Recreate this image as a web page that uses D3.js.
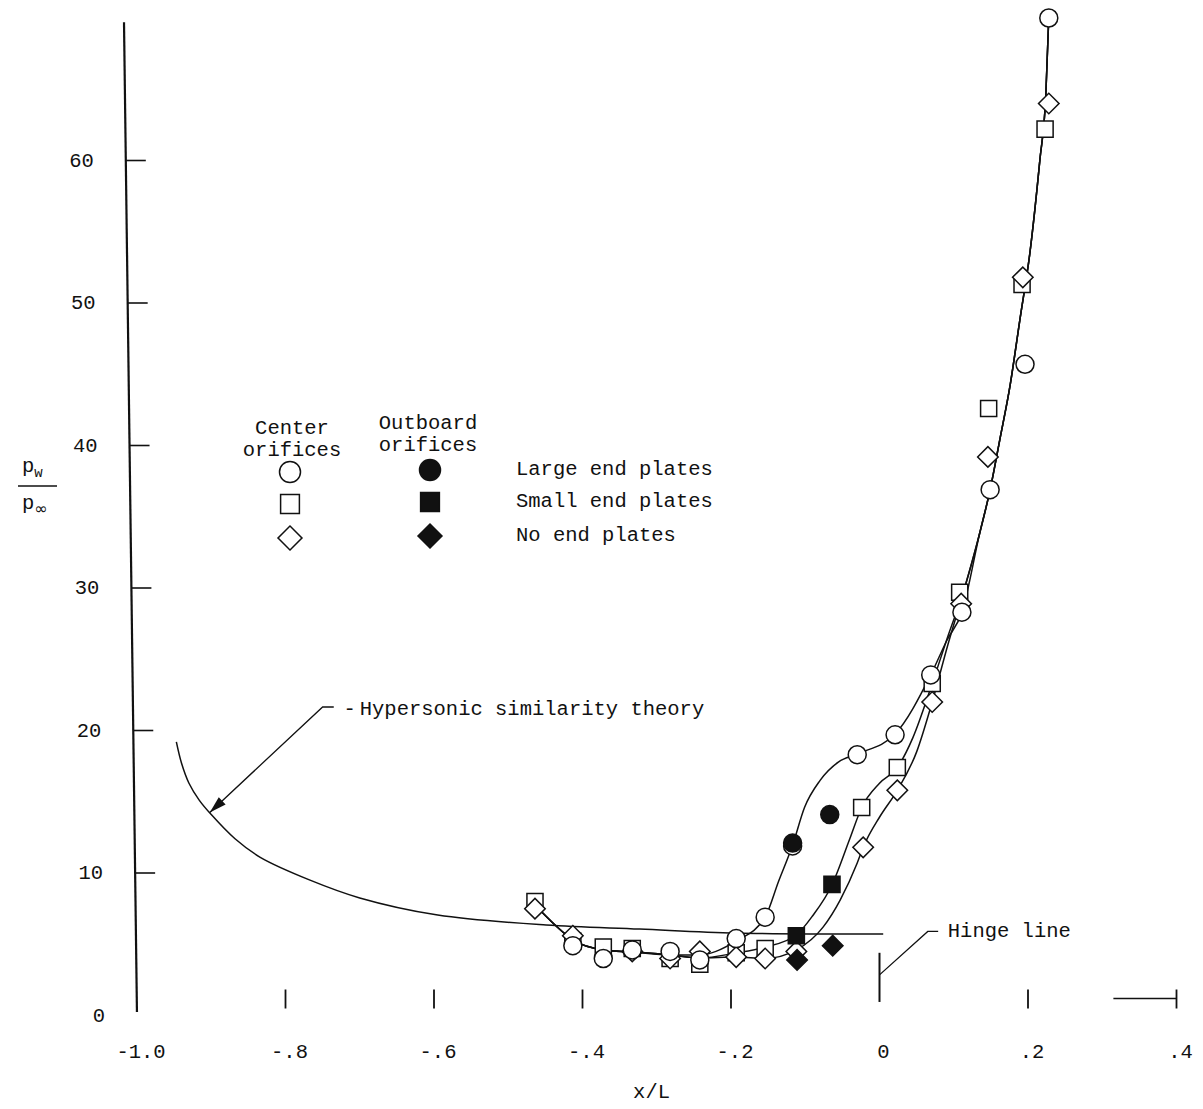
<!DOCTYPE html>
<html>
<head>
<meta charset="utf-8">
<script src="https://cdn.jsdelivr.net/npm/d3@7"></script>
<style>
  html, body { margin: 0; padding: 0; background: #fff; }
  svg text { font-family: "Liberation Mono", "DejaVu Sans Mono", monospace; font-size: 20.5px; fill: #111; }
</style>
</head>
<body>
<svg id="chart" width="1203" height="1109"></svg>
<script>
// Pressure ratio p_w/p_inf against station x/L.
var centerLargeX = [-0.413, -0.372, -0.333, -0.282, -0.242, -0.193, -0.154, -0.117, -0.030, 0.021, 0.069, 0.111, 0.149, 0.196, 0.228];
var centerLargeY = [4.9, 4.0, 4.6, 4.5, 3.9, 5.4, 6.9, 11.9, 18.3, 19.7, 23.9, 28.3, 36.9, 45.7, 70.0];

var centerSmallX = [-0.464, -0.413, -0.372, -0.333, -0.282, -0.242, -0.193, -0.154, -0.024, 0.024, 0.071, 0.108, 0.147, 0.192, 0.223];
var centerSmallY = [8.0, 5.2, 4.8, 4.7, 4.0, 3.6, 4.4, 4.7, 14.6, 17.4, 23.3, 29.7, 42.6, 51.3, 62.2];

var centerNoneX = [-0.464, -0.413, -0.333, -0.282, -0.242, -0.193, -0.154, -0.112, -0.022, 0.024, 0.071, 0.110, 0.146, 0.193, 0.228];
var centerNoneY = [7.5, 5.6, 4.5, 4.0, 4.5, 4.1, 4.0, 4.5, 11.8, 15.8, 22.0, 28.9, 39.2, 51.8, 64.0];

var outboardLargeX = [-0.117, -0.067];
var outboardLargeY = [12.1, 14.1];
var outboardSmallX = [-0.112, -0.064];
var outboardSmallY = [5.6, 9.2];
var outboardNoneX = [-0.111, -0.063];
var outboardNoneY = [3.9, 4.9];

// Faired curves
var fairStartX = [-0.464, -0.437, -0.413, -0.372, -0.333, -0.282];
var fairStartY = [7.75, 6.35, 5.3, 4.6, 4.46, 4.25];
var fairLargeX = [-0.242, -0.193, -0.154, -0.136, -0.117, -0.101, -0.080, -0.055, -0.030, 0.021, 0.069, 0.091, 0.111, 0.135];
var fairLargeY = [4.25, 5.23, 6.9, 9.4, 11.96, 14.6, 16.5, 17.8, 18.35, 19.75, 23.9, 26.35, 28.3, 33.86];
var fairSmallX = [-0.242, -0.193, -0.154, -0.112, -0.090, -0.064, -0.040, -0.024, 0.000, 0.024, 0.045, 0.071, 0.092, 0.115, 0.135];
var fairSmallY = [4.04, 4.39, 4.8, 5.65, 7.0, 9.16, 12.4, 14.6, 16.3, 17.4, 19.5, 23.3, 26.6, 30.07, 33.86];
var fairNoneX = [-0.242, -0.193, -0.154, -0.112, -0.076, -0.053, -0.030, -0.022, 0.001, 0.024, 0.050, 0.071, 0.092, 0.115, 0.135];
var fairNoneY = [4.04, 4.1, 4.0, 4.6, 6.2, 8.1, 10.7, 11.8, 14.0, 15.8, 18.5, 22.0, 26.0, 30.07, 33.86];
var fairUpperX = [0.149, 0.162, 0.176, 0.189, 0.203, 0.216, 0.224, 0.228];
var fairUpperY = [36.9, 40.4, 44.25, 48.8, 53.7, 60.04, 64.6, 70.07];

var theoryX = [-0.947, -0.940, -0.930, -0.916, -0.900, -0.868, -0.834, -0.767, -0.700, -0.595, -0.449, -0.323, -0.193, 0.005];
var theoryY = [19.2, 17.7, 16.3, 15.1, 14.1, 12.4, 11.1, 9.5, 8.25, 7.05, 6.35, 6.07, 5.79, 5.72];

var xTicks = [-1.0, -0.8, -0.6, -0.4, -0.2, 0, 0.2, 0.4];
var xTickLabels = ["-1.0", "-.8", "-.6", "-.4", "-.2", "0", ".2", ".4"];
var yTicks = [0, 10, 20, 30, 40, 50, 60];

var svg = d3.select("#chart");
svg.append("rect").attr("width", 1203).attr("height", 1109).attr("fill", "#fff");

var x = d3.scaleLinear().domain([-1, 0.4]).range([137, 1176.5]);
var y = d3.scaleLinear().domain([0, 70]).range([1015.5, 18]);

var INK = "#111";
var AXIS_TOP = 69.7;

// the scanned y axis leans slightly to the left going up
function axisX(v) {
    return x(-1) - 13 * v / AXIS_TOP;
}

function zip(xs, ys) {
    return xs.map(function(d, i) { return [d, ys[i]]; });
}

function pts(list) {
    return list.map(function(p) { return p.join(","); }).join(" ");
}

// y axis
svg.append("line")
    .attr("x1", axisX(0.25)).attr("y1", y(0.25))
    .attr("x2", axisX(AXIS_TOP)).attr("y2", y(AXIS_TOP))
    .attr("stroke", INK).attr("stroke-width", 2.2);

yTicks.forEach(function(v) {
    if (v > 0) {
        svg.append("line")
            .attr("x1", axisX(v)).attr("x2", axisX(v) + 20)
            .attr("y1", y(v)).attr("y2", y(v))
            .attr("stroke", INK).attr("stroke-width", 1.6);
    }
    svg.append("text")
        .attr("x", axisX(v) - 32)
        .attr("y", y(v) + 6)
        .attr("text-anchor", "end")
        .text(v);
});

// x ticks (no axis line in the original)
xTicks.forEach(function(v, i) {
    if (v > -1 && v !== 0) {
        svg.append("line")
            .attr("x1", x(v)).attr("x2", x(v))
            .attr("y1", y(0) - 26).attr("y2", y(0) - 7)
            .attr("stroke", INK).attr("stroke-width", 1.8);
    }
    svg.append("text")
        .attr("x", x(v) + 4)
        .attr("y", 1058)
        .attr("text-anchor", "middle")
        .text(xTickLabels[i]);
});
svg.append("line")
    .attr("x1", x(0.315)).attr("x2", x(0.4))
    .attr("y1", y(0) - 17).attr("y2", y(0) - 17)
    .attr("stroke", INK).attr("stroke-width", 1.4);

svg.append("text")
    .attr("x", x(-0.307)).attr("y", 1098)
    .attr("text-anchor", "middle")
    .text("x/L");

// y label p_w / p_inf
var yl = svg.append("g");
var t1 = yl.append("text").attr("x", 22).attr("y", 472);
t1.append("tspan").text("p");
t1.append("tspan").attr("dy", 5).style("font-size", "14px").text("w");
yl.append("line").attr("x1", 18).attr("x2", 57).attr("y1", 486).attr("y2", 486)
    .attr("stroke", INK).attr("stroke-width", 1.4);
var t2 = yl.append("text").attr("x", 22).attr("y", 509);
t2.append("tspan").text("p");
t2.append("tspan").attr("dy", 5).style("font-size", "16px").style("font-family", "DejaVu Sans").text("\u221e");

// curves
var line = d3.line()
    .x(function(d) { return x(d[0]); })
    .y(function(d) { return y(d[1]); })
    .curve(d3.curveMonotoneX);

var start = zip(fairStartX, fairStartY);
var upper = zip(fairUpperX, fairUpperY);
[[fairLargeX, fairLargeY], [fairSmallX, fairSmallY], [fairNoneX, fairNoneY]].forEach(function(b) {
    svg.append("path")
        .attr("d", line(start.concat(zip(b[0], b[1]), upper)))
        .attr("fill", "none")
        .attr("stroke", INK)
        .attr("stroke-width", 1.5);
});

svg.append("path")
    .attr("d", line.curve(d3.curveCatmullRom.alpha(0.5))(zip(theoryX, theoryY)))
    .attr("fill", "none")
    .attr("stroke", INK)
    .attr("stroke-width", 1.5);

// theory leader with arrowhead
var tip = [x(-0.902), y(14.25)];
var from = [x(-0.750), y(21.65)];
svg.append("polyline")
    .attr("points", pts([[x(-0.735), from[1]], from, tip]))
    .attr("fill", "none").attr("stroke", INK).attr("stroke-width", 1.3);
var ang = Math.atan2(tip[1] - from[1], tip[0] - from[0]);
var L = 17, W = 5;
var bx = tip[0] - L * Math.cos(ang), by = tip[1] - L * Math.sin(ang);
svg.append("path")
    .attr("d", "M" + tip[0] + "," + tip[1] +
        "L" + (bx + W * Math.sin(ang)) + "," + (by - W * Math.cos(ang)) +
        "L" + (bx - W * Math.sin(ang)) + "," + (by + W * Math.cos(ang)) + "Z")
    .attr("fill", INK);
svg.append("text").attr("x", x(-0.722)).attr("y", y(21.65) + 8).text("-");
svg.append("text").attr("x", x(-0.700)).attr("y", y(21.65) + 8).text("Hypersonic similarity theory");

// hinge line
svg.append("line")
    .attr("x1", x(0)).attr("x2", x(0))
    .attr("y1", y(4.4)).attr("y2", y(0.95))
    .attr("stroke", INK).attr("stroke-width", 2);
svg.append("polyline")
    .attr("points", pts([[x(0), y(2.85)], [x(0.065), y(5.9)], [x(0.079), y(5.9)]]))
    .attr("fill", "none").attr("stroke", INK).attr("stroke-width", 1.3);
svg.append("text").attr("x", x(0.092)).attr("y", y(5.9) + 6).text("Hinge line");

// markers
var symCircle = d3.symbol().type(d3.symbolCircle),
    symSquare = d3.symbol().type(d3.symbolSquare);

function marker(g, shape, filled, cx, cy, s) {
    var p = g.append("path")
        .attr("fill", filled ? INK : "#fff")
        .attr("stroke", INK)
        .attr("stroke-width", 1.5);
    if (shape === "circle") {
        p.attr("d", symCircle.size(Math.PI * s * s)()).attr("transform", "translate(" + cx + "," + cy + ")");
    } else if (shape === "square") {
        p.attr("d", symSquare.size(s * s * 3.2)()).attr("transform", "translate(" + cx + "," + cy + ")");
    } else {
        p.attr("d", symSquare.size(s * s * 2.6)()).attr("transform", "translate(" + cx + "," + cy + ") rotate(45)");
    }
}

var series = [
    {xs: centerSmallX, ys: centerSmallY, shape: "square", filled: false},
    {xs: centerNoneX, ys: centerNoneY, shape: "diamond", filled: false},
    {xs: centerLargeX, ys: centerLargeY, shape: "circle", filled: false},
    {xs: outboardSmallX, ys: outboardSmallY, shape: "square", filled: true},
    {xs: outboardNoneX, ys: outboardNoneY, shape: "diamond", filled: true},
    {xs: outboardLargeX, ys: outboardLargeY, shape: "circle", filled: true}
];
var mg = svg.append("g");
series.forEach(function(s) {
    s.xs.forEach(function(v, i) {
        marker(mg, s.shape, s.filled, x(v), y(s.ys[i]), 9);
    });
});

// legend
var lg = svg.append("g");
[["Center", 292, 434], ["orifices", 292, 456], ["Outboard", 428, 429], ["orifices", 428, 451]].forEach(function(t) {
    lg.append("text").attr("x", t[1]).attr("y", t[2]).attr("text-anchor", "middle").text(t[0]);
});
[["circle", 472, "Large end plates"], ["square", 504, "Small end plates"], ["diamond", 538, "No end plates"]].forEach(function(r) {
    marker(lg, r[0], false, 290, r[1], 10.5);
    marker(lg, r[0], true, 430, r[1] - 2, 10.5);
    lg.append("text").attr("x", 516).attr("y", r[1] + 3).text(r[2]);
});
</script>
</body>
</html>
